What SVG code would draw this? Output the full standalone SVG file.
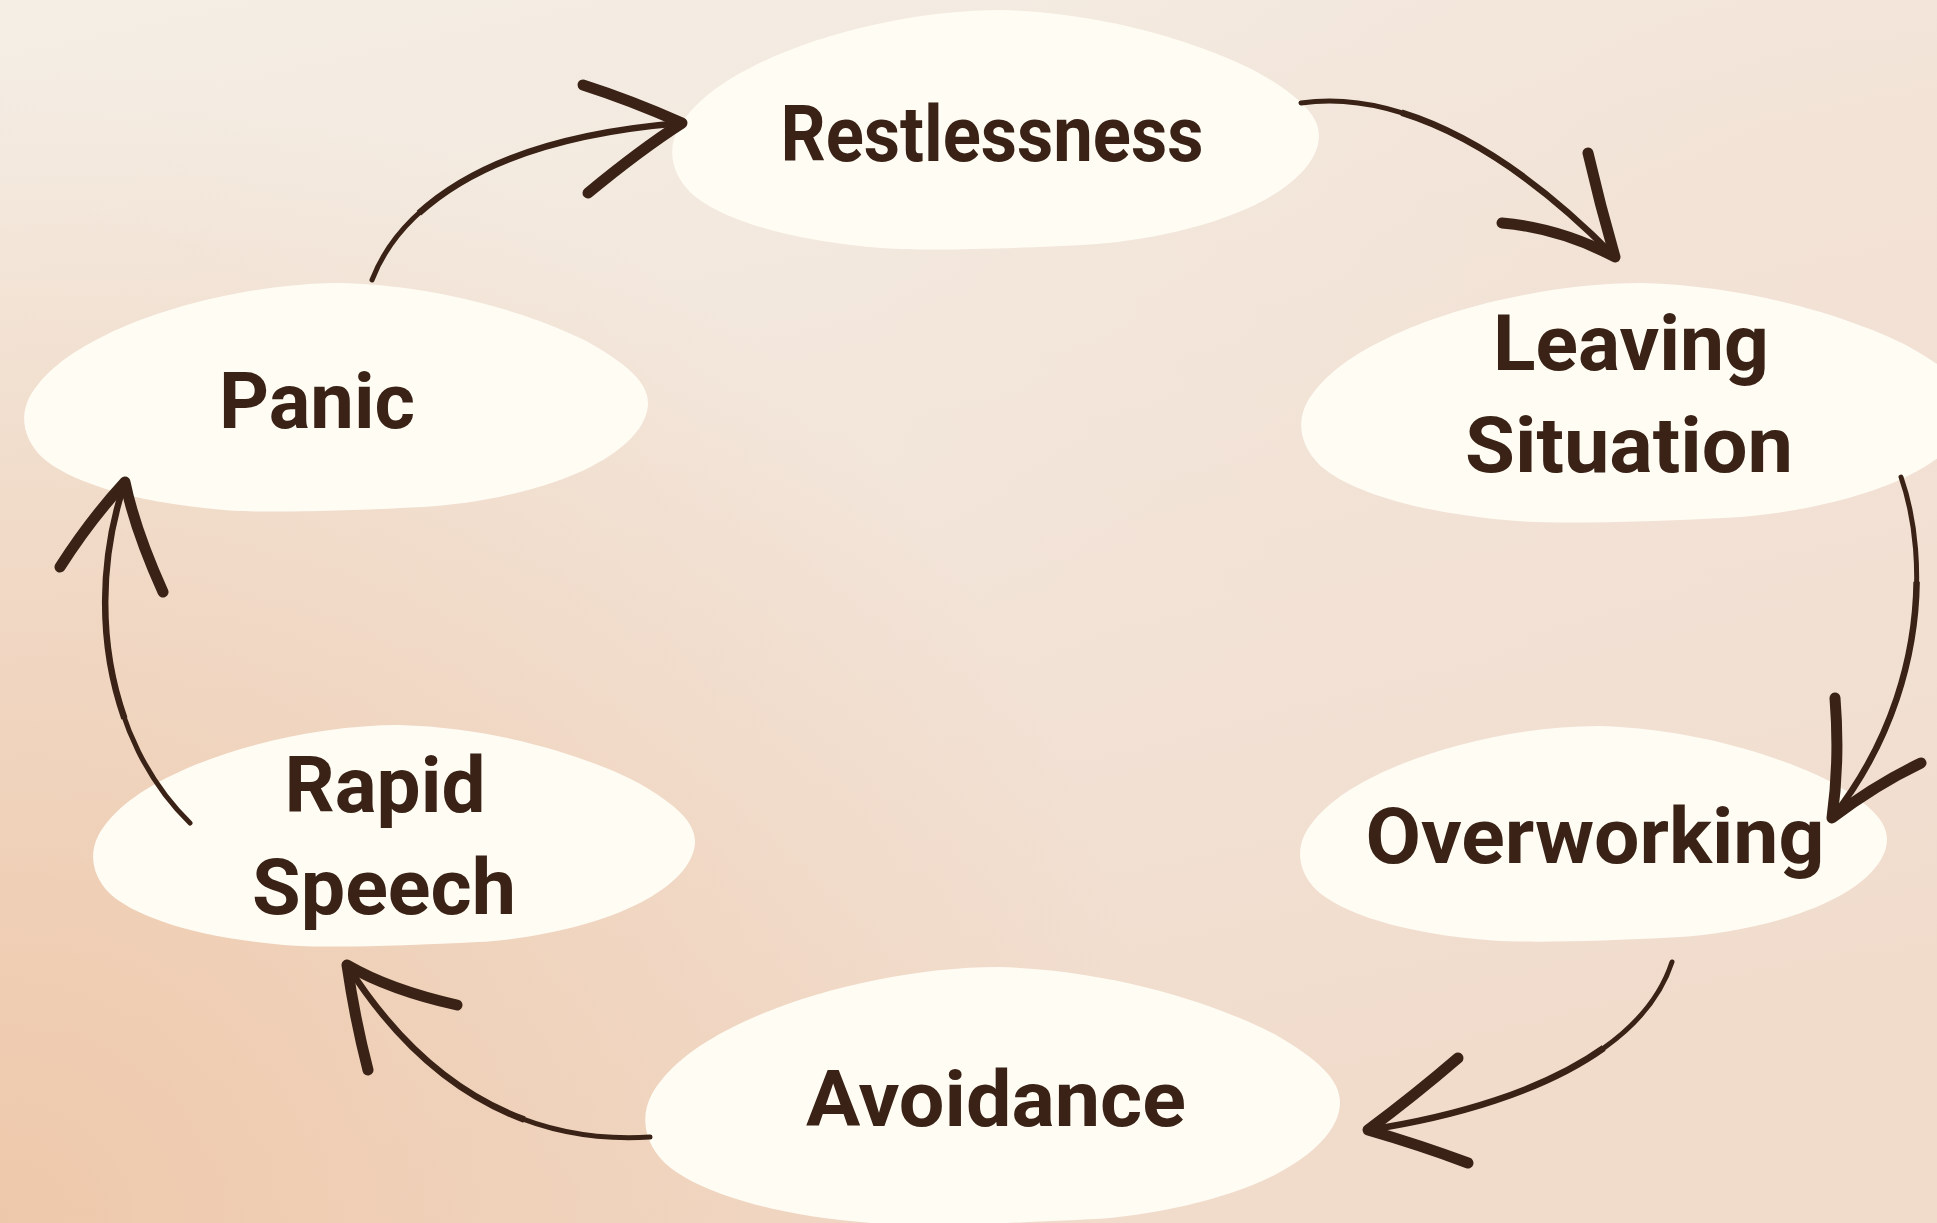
<svg xmlns="http://www.w3.org/2000/svg" width="1937" height="1223" viewBox="0 0 1937 1223">
  <defs>
    <linearGradient id="bgLin" x1="0" y1="0" x2="0.35" y2="1">
      <stop offset="0" stop-color="#f4eee5"/>
      <stop offset="0.55" stop-color="#f2e4d8"/>
      <stop offset="1" stop-color="#f1dccc"/>
    </linearGradient>
    <radialGradient id="bgPeach" cx="0" cy="1" r="0.6" gradientUnits="objectBoundingBox" gradientTransform="translate(0,1) scale(1,1.58) translate(0,-1)">
      <stop offset="0" stop-color="#eec8aa" stop-opacity="1"/>
      <stop offset="1" stop-color="#eec8aa" stop-opacity="0"/>
    </radialGradient>
    <radialGradient id="bgPink" cx="1" cy="0.25" r="0.55">
      <stop offset="0" stop-color="#f2dfd2" stop-opacity="0.7"/>
      <stop offset="1" stop-color="#f2dfd2" stop-opacity="0"/>
    </radialGradient>
    <path id="blob" d="M 510,0 C 380,0 230,95 130,230 C 70,310 30,400 10,500 C -5,580 0,680 30,760 C 70,860 170,960 330,993 C 400,1005 520,995 640,978 C 730,965 840,900 910,800 C 960,730 1000,630 1000,524 C 1000,440 970,360 907,262 C 850,180 700,15 510,0 Z"/>
  </defs>
  <style>
    .blob { fill: #fffcf4; }
    .label { font-family: Roboto, "Liberation Sans", Arial, sans-serif; font-weight: 700; font-size: 77px; fill: #3a2316; text-anchor: middle; }
    .shaft { fill: none; stroke: #3a2316; stroke-width: 5; stroke-linecap: round; }
    .shaft-thick { fill: none; stroke: #3a2316; stroke-width: 6.5; stroke-linecap: butt; }
    .barb { fill: none; stroke: #3a2316; stroke-width: 11; stroke-linecap: round; stroke-linejoin: round; }
  </style>

  <rect x="0" y="0" width="1937" height="1223" fill="url(#bgLin)"/>
  <rect x="0" y="0" width="1937" height="1223" fill="url(#bgPink)"/>
  <rect x="0" y="0" width="1937" height="1223" fill="url(#bgPeach)"/>

  <g id="node-restlessness">
    <use href="#blob" class="blob" transform="translate(671,10) scale(0.648,0.24)"/>
    <text class="label" x="992" y="161" textLength="423" lengthAdjust="spacingAndGlyphs">Restlessness</text>
  </g>
  <g id="node-leaving-situation">
    <use href="#blob" class="blob" transform="translate(1300,283) scale(0.67,0.24)"/>
    <text class="label" x="1631" y="370" textLength="276" lengthAdjust="spacingAndGlyphs">Leaving</text>
    <text class="label" x="1629" y="472" textLength="328" lengthAdjust="spacingAndGlyphs">Situation</text>
  </g>
  <g id="node-panic">
    <use href="#blob" class="blob" transform="translate(23,283) scale(0.625,0.229)"/>
    <text class="label" x="317" y="428" textLength="196" lengthAdjust="spacingAndGlyphs">Panic</text>
  </g>
  <g id="node-overworking">
    <use href="#blob" class="blob" transform="translate(1299,726) scale(0.588,0.216)"/>
    <text class="label" x="1595" y="863" textLength="459" lengthAdjust="spacingAndGlyphs">Overworking</text>
  </g>
  <g id="node-rapid-speech">
    <use href="#blob" class="blob" transform="translate(92,725) scale(0.603,0.222)"/>
    <text class="label" x="385" y="812" textLength="201" lengthAdjust="spacingAndGlyphs">Rapid</text>
    <text class="label" x="384" y="914" textLength="264" lengthAdjust="spacingAndGlyphs">Speech</text>
  </g>
  <g id="node-avoidance">
    <use href="#blob" class="blob" transform="translate(644,967) scale(0.696,0.258)"/>
    <text class="label" x="996" y="1126" textLength="380" lengthAdjust="spacingAndGlyphs">Avoidance</text>
  </g>

  <g id="connectors">
    <g id="arrow-panic-restlessness">
      <path class="shaft" d="M 372,280 C 395,220 470,140 682,123"/>
      <path class="shaft-thick" d="M 418.9,213.2 C 464.3,171.7 544.2,134.05 682,123"/>
      <path class="barb" d="M 583,85 Q 630,100 682,123 Q 640,150 588,193"/>
    </g>
    <g id="arrow-restlessness-leaving">
      <path class="shaft" d="M 1301,103 C 1390,90 1500,140 1615,257"/>
      <path class="shaft-thick" d="M 1401.5,112.7 C 1467.6,133.2 1540.25,180.95 1615,257"/>
      <path class="barb" d="M 1588,153 Q 1600,205 1615,257 Q 1560,228 1502,223"/>
    </g>
    <g id="arrow-leaving-overworking">
      <path class="shaft" d="M 1901,477 C 1930,560 1925,700 1832,818"/>
      <path class="shaft-thick" d="M 1916.6,581.7 C 1915.7,655.3 1892.45,741.3 1832,818"/>
      <path class="barb" d="M 1835,698 Q 1840,760 1832,818 Q 1875,785 1921,763"/>
    </g>
    <g id="arrow-overworking-avoidance">
      <path class="shaft" d="M 1672,962 C 1640,1060 1500,1110 1368,1130"/>
      <path class="shaft-thick" d="M 1603.7,1048 C 1543,1091.3 1453.8,1117 1368,1130"/>
      <path class="barb" d="M 1458,1058 Q 1415,1095 1368,1130 Q 1420,1145 1468,1163"/>
    </g>
    <g id="arrow-avoidance-rapid">
      <path class="shaft" d="M 650,1137 C 520,1145 420,1080 347,965"/>
      <path class="shaft-thick" d="M 524.4,1119.6 C 453.3,1093.4 394.45,1039.75 347,965"/>
      <path class="barb" d="M 368,1070 Q 355,1020 347,965 Q 390,990 457,1005"/>
    </g>
    <g id="arrow-rapid-panic">
      <path class="shaft" d="M 190,823 C 105,740 85,600 125,482"/>
      <path class="shaft-thick" d="M 124.4,718.3 C 98.35,644.7 99,558.7 125,482"/>
      <path class="barb" d="M 60,567 Q 90,520 125,482 Q 135,530 163,592"/>
    </g>
  </g>
</svg>
